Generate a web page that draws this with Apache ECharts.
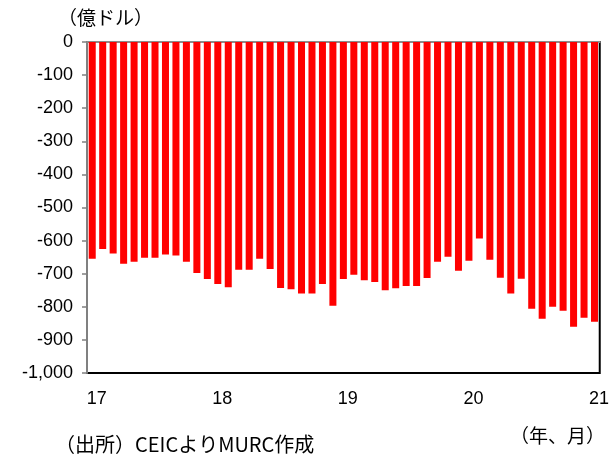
<!DOCTYPE html>
<html>
<head>
<meta charset="utf-8">
<script src="https://cdn.jsdelivr.net/npm/echarts@6/dist/echarts.min.js"></script>
<style>
  html, body { margin: 0; padding: 0; background: #fff; }
  #chart { width: 612px; height: 457px; }
</style>
</head>
<body>
<div id="chart"></div>
<script>
// Monthly months, Jan 2017 – Jan 2021
const months = [
  '2017-01','2017-02','2017-03','2017-04','2017-05','2017-06','2017-07','2017-08','2017-09','2017-10','2017-11','2017-12',
  '2018-01','2018-02','2018-03','2018-04','2018-05','2018-06','2018-07','2018-08','2018-09','2018-10','2018-11','2018-12',
  '2019-01','2019-02','2019-03','2019-04','2019-05','2019-06','2019-07','2019-08','2019-09','2019-10','2019-11','2019-12',
  '2020-01','2020-02','2020-03','2020-04','2020-05','2020-06','2020-07','2020-08','2020-09','2020-10','2020-11','2020-12',
  '2021-01'
];

// Balance, 100 million USD
const balance = [
  -655, -625, -639, -670, -664, -652, -652, -642, -645, -664, -698, -716,
  -731, -741, -688, -688, -655, -686, -743, -747, -760, -760, -731, -797,
  -716, -703, -720, -725, -750, -744, -737, -737, -713, -664, -649, -691,
  -661, -594, -658, -712, -760, -715, -806, -836, -800, -812, -860, -833,
  -845
];

const yTicks = { min: -1000, max: 0, step: 100 };

const unitLabel = '（億ドル）';
const periodLabel = '（年、月）';
const sourceLabel = '（出所）CEICよりMURC作成';

const latin = '"Liberation Sans", Arial, sans-serif';
const jp = '"Noto Sans CJK JP", "Noto Sans", sans-serif';

const chart = echarts.init(document.getElementById('chart'), null, { renderer: 'canvas' });

chart.setOption({
  animation: false,
  backgroundColor: '#ffffff',
  grid: {
    left: 87, right: 11, top: 42, bottom: 84,
    show: true, borderColor: '#000', borderWidth: 2, backgroundColor: 'transparent'
  },
  xAxis: [
    {
      type: 'category',
      data: months,
      position: 'bottom',
      axisLine: { show: false, onZero: false },
      axisTick: { show: false },
      axisLabel: {
        interval: 11,
        margin: 17,
        color: '#000',
        fontFamily: latin,
        fontSize: 18,
        padding: [0, 0, 0, 9],
        formatter: v => v.slice(2, 4)
      },
      splitLine: { show: false }
    },
    {
      type: 'category',
      data: months,
      position: 'top',
      axisLine: { show: true, lineStyle: { color: '#8c8c8c', width: 2 } },
      axisTick: { show: false },
      axisLabel: { show: false }
    }
  ],
  yAxis: {
    type: 'value',
    min: yTicks.min,
    max: yTicks.max,
    interval: yTicks.step,
    axisLine: { show: true, lineStyle: { color: '#808080', width: 2 } },
    axisTick: { show: true, length: 5, lineStyle: { color: '#808080', width: 1.5 } },
    axisLabel: {
      color: '#000',
      fontFamily: latin,
      fontSize: 18,
      margin: 14,
      formatter: v => v.toLocaleString('en-US')
    },
    splitLine: { show: false }
  },
  series: [
    {
      type: 'bar',
      data: balance,
      barCategoryGap: '33%',
      itemStyle: { color: '#ff0000' }
    }
  ],
  graphic: [
    {
      type: 'text', left: 58, top: 8,
      style: { text: unitLabel, font: '19px ' + jp, fill: '#000' }
    },
    {
      type: 'text', left: 510, top: 426,
      style: { text: periodLabel, font: '19px ' + jp, fill: '#000' }
    },
    {
      type: 'text', left: 55, top: 434,
      style: { text: sourceLabel, font: '20px ' + jp, fill: '#000' }
    }
  ]
});
</script>
</body>
</html>
